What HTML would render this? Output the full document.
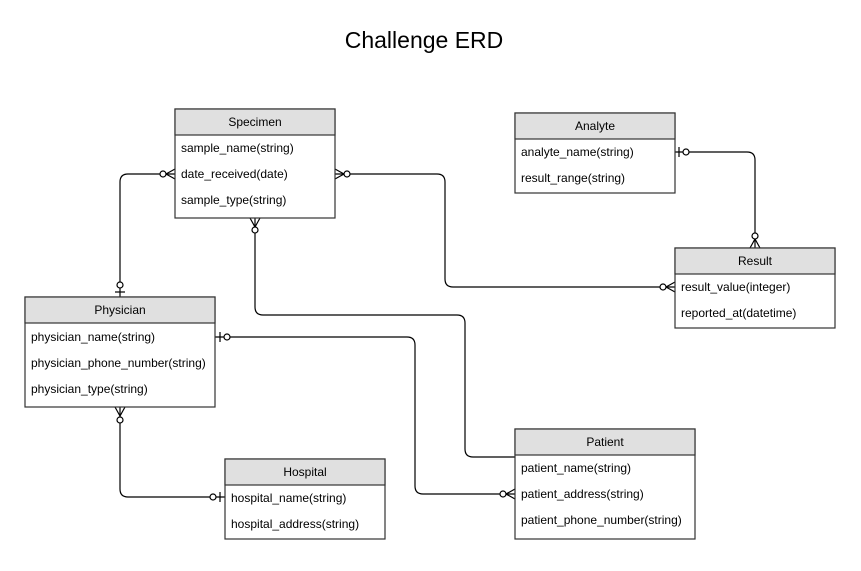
<!DOCTYPE html>
<html><head><style>
body{margin:0;background:#fff;}
svg text{font-family:"Liberation Sans",sans-serif;}
</style></head><body>
<svg width="861" height="566" viewBox="0 0 861 566" xmlns="http://www.w3.org/2000/svg">
<rect width="861" height="566" fill="#fff"/>
<text x="424" y="48" font-size="23" text-anchor="middle" fill="#000">Challenge ERD</text>
<g fill="none" stroke="#000" stroke-width="1.2">
<!-- Specimen-Physician -->
<path d="M175 174 H128 Q120 174 120 182 V297"/>
<path d="M175 169 L166 174 L175 179"/><circle cx="163" cy="174" r="3" fill="#fff"/>
<circle cx="120" cy="285" r="3" fill="#fff"/><path d="M115 292 H125"/>
<!-- Specimen-Result -->
<path d="M335 174 H437 Q445 174 445 182 V279 Q445 287 453 287 H675"/>
<path d="M335 169 L344 174 L335 179"/><circle cx="347" cy="174" r="3" fill="#fff"/>
<path d="M675 282 L666 287 L675 292"/><circle cx="663" cy="287" r="3" fill="#fff"/>
<!-- Specimen-Patient -->
<path d="M255 218 V307 Q255 315 263 315 H457 Q465 315 465 323 V449 Q465 457 473 457 H515"/>
<path d="M250 218 L255 227 L260 218"/><circle cx="255" cy="230" r="3" fill="#fff"/>
<!-- Physician-Patient -->
<path d="M215 337 H407 Q415 337 415 345 V486 Q415 494 423 494 H515"/>
<path d="M220 332 V342"/><circle cx="227" cy="337" r="3" fill="#fff"/>
<path d="M515 489 L506 494 L515 499"/><circle cx="503" cy="494" r="3" fill="#fff"/>
<!-- Physician-Hospital -->
<path d="M120 407 V489 Q120 497 128 497 H225"/>
<path d="M115 407 L120 416 L125 407"/><circle cx="120" cy="420" r="3" fill="#fff"/>
<path d="M220 492 V502"/><circle cx="213" cy="497" r="3" fill="#fff"/>
<!-- Analyte-Result -->
<path d="M675 152 H747 Q755 152 755 160 V248"/>
<path d="M679 147 V157"/><circle cx="686" cy="152" r="3" fill="#fff"/>
<path d="M750 248 L755 239 L760 248"/><circle cx="755" cy="236" r="3" fill="#fff"/>
</g>
<g stroke="#333" stroke-width="1.2">
<rect x="175" y="109" width="160" height="109" fill="#fff"/><rect x="175" y="109" width="160" height="26" fill="#e0e0e0"/>
<rect x="515" y="113" width="160" height="80" fill="#fff"/><rect x="515" y="113" width="160" height="26" fill="#e0e0e0"/>
<rect x="675" y="248" width="160" height="80" fill="#fff"/><rect x="675" y="248" width="160" height="26" fill="#e0e0e0"/>
<rect x="25" y="297" width="190" height="110" fill="#fff"/><rect x="25" y="297" width="190" height="26" fill="#e0e0e0"/>
<rect x="225" y="459" width="160" height="80" fill="#fff"/><rect x="225" y="459" width="160" height="26" fill="#e0e0e0"/>
<rect x="515" y="429" width="180" height="110" fill="#fff"/><rect x="515" y="429" width="180" height="26" fill="#e0e0e0"/>
</g>
<g font-size="12" fill="#000">
<text x="255" y="126" text-anchor="middle">Specimen</text>
<text x="181" y="152">sample_name(string)</text>
<text x="181" y="178">date_received(date)</text>
<text x="181" y="204">sample_type(string)</text>
<text x="595" y="130" text-anchor="middle">Analyte</text>
<text x="521" y="156">analyte_name(string)</text>
<text x="521" y="182">result_range(string)</text>
<text x="755" y="265" text-anchor="middle">Result</text>
<text x="681" y="291">result_value(integer)</text>
<text x="681" y="317">reported_at(datetime)</text>
<text x="120" y="314" text-anchor="middle">Physician</text>
<text x="31" y="341">physician_name(string)</text>
<text x="31" y="367">physician_phone_number(string)</text>
<text x="31" y="393">physician_type(string)</text>
<text x="305" y="476" text-anchor="middle">Hospital</text>
<text x="231" y="502">hospital_name(string)</text>
<text x="231" y="528">hospital_address(string)</text>
<text x="605" y="446" text-anchor="middle">Patient</text>
<text x="521" y="472">patient_name(string)</text>
<text x="521" y="498">patient_address(string)</text>
<text x="521" y="524">patient_phone_number(string)</text>
</g>
</svg>
</body></html>
